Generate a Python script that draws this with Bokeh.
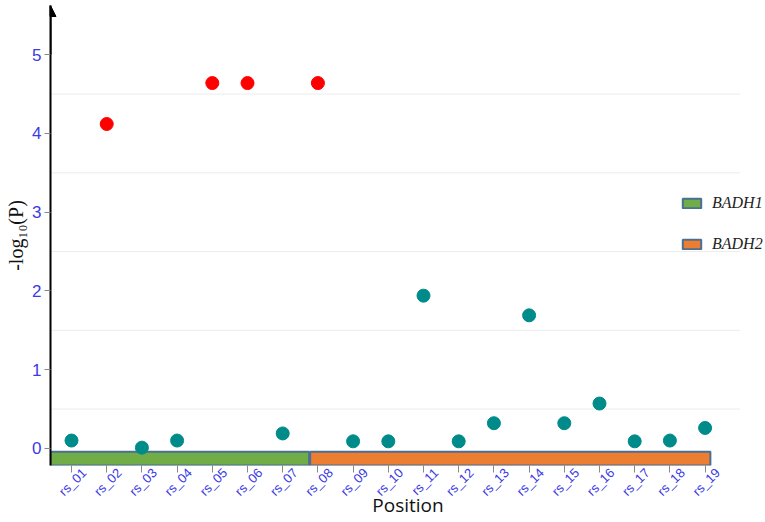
from bokeh.plotting import figure
from bokeh.models import (ColumnDataSource, FixedTicker, Arrow, NormalHead, Legend, LegendItem,
                          LinearAxis, Range1d)
from bokeh.embed import file_html
from bokeh.resources import INLINE

# ---- data ----
snps = ["rs_01", "rs_02", "rs_03", "rs_04", "rs_05", "rs_06", "rs_07", "rs_08", "rs_09", "rs_10",
        "rs_11", "rs_12", "rs_13", "rs_14", "rs_15", "rs_16", "rs_17", "rs_18", "rs_19"]
logp = [0.10, 4.12, 0.01, 0.10, 4.64, 4.64, 0.19, 4.64, 0.09, 0.09,
        1.94, 0.09, 0.32, 1.69, 0.32, 0.57, 0.09, 0.10, 0.26]
significant = [False, True, False, False, True, True, False, True, False, False,
               False, False, False, False, False, False, False, False, False]
genes = ["BADH1", "BADH2"]
gene_start = [0.4, 7.78]
gene_end = [7.75, 19.15]
gene_colors = ["#70ad47", "#ed7d31"]
y_ticks = [0, 1, 2, 3, 4, 5]
grid_lines = [0.5, 1.5, 2.5, 3.5, 4.5]
grid_x = (0.4, 20.0)
x_title = "Position"
y_title = "-log\u2081\u2080(P)"

pos = list(range(1, len(snps) + 1))
pt_colors = ["#ff0000" if s else "#008b8b" for s in significant]

X0, X1 = 0.403, 20.716
Y0, Y1 = -0.217, 5.625
LABEL_SHIFT = 0.36  # tick labels are centred under their ticks in the original

p = figure(width=765, height=522, output_backend="svg", toolbar_location=None,
           x_range=(X0, X1), y_range=(Y0, Y1),
           min_border_left=50, min_border_right=0, min_border_top=5, min_border_bottom=57)
p.outline_line_color = None
p.xgrid.grid_line_color = None
p.ygrid.grid_line_color = None

# horizontal guide lines at half steps
p.segment(x0=[grid_x[0]] * len(grid_lines), x1=[grid_x[1]] * len(grid_lines),
          y0=grid_lines, y1=grid_lines, line_color="#ececec", line_width=1)

# gene bars
gsrc = ColumnDataSource(dict(left=gene_start, right=gene_end, y=[-0.13, -0.13],
                             color=gene_colors, name=genes))
gr = p.hbar(y="y", left="left", right="right", height=0.175, fill_color="color",
            line_color="#4a6f94", line_width=2, source=gsrc)

# points
psrc = ColumnDataSource(dict(x=pos, y=logp, c=pt_colors))
p.scatter("x", "y", size=13, fill_color="c", line_color="c", source=psrc)

# x axis: tick marks only
xa = p.xaxis[0]
xa.ticker = FixedTicker(ticks=pos)
xa.major_label_text_font_size = "1px"
xa.major_label_text_color = None
xa.major_label_standoff = 0
xa.axis_line_color = None
xa.major_tick_line_color = "#888888"
xa.major_tick_out = 7
xa.major_tick_in = 0
xa.minor_tick_line_color = None

# x axis: labels (range shifted so labels are centred on ticks)
p.extra_x_ranges = {"lab": Range1d(X0 - LABEL_SHIFT, X1 - LABEL_SHIFT)}
xl = LinearAxis(x_range_name="lab", ticker=FixedTicker(ticks=pos))
xl.major_label_overrides = {i: s for i, s in zip(pos, snps)}
xl.major_label_orientation = 0.785
xl.major_label_text_color = "#3a3ae6"
xl.major_label_text_font = "Liberation Sans"
xl.major_label_text_font_size = "13px"
xl.major_label_standoff = -2
xl.axis_line_color = None
xl.major_tick_line_color = None
xl.major_tick_out = 0
xl.major_tick_in = 0
xl.minor_tick_line_color = None
xl.axis_label = x_title
xl.axis_label_text_font = "Open Sans"
xl.axis_label_text_font_style = "normal"
xl.axis_label_text_font_size = "19px"
xl.axis_label_text_color = "#111111"
xl.axis_label_standoff = -15
p.add_layout(xl, "below")

ya = p.yaxis[0]
ya.ticker = FixedTicker(ticks=y_ticks)
ya.major_label_text_color = "#3a3ae6"
ya.major_label_text_font = "Liberation Sans"
ya.major_label_text_font_size = "17px"
ya.axis_line_color = "black"
ya.axis_line_width = 2
ya.major_tick_line_color = "#888888"
ya.major_tick_out = 6
ya.major_tick_in = 0
ya.minor_tick_line_color = None
ya.major_label_standoff = 3
ya.axis_label = y_title
ya.axis_label_text_font = "Liberation Serif"
ya.axis_label_text_font_style = "normal"
ya.axis_label_text_font_size = "20px"
ya.axis_label_text_color = "#111111"
ya.axis_label_standoff = 2

# arrow at top of y axis
p.add_layout(Arrow(end=NormalHead(size=11, fill_color="black", line_color="black"),
                   x_start=X0, y_start=5.0, x_end=X0, y_end=Y1,
                   line_color="black", line_width=2))

# legend
legend = Legend(items=[LegendItem(label=genes[0], renderers=[gr], index=0),
                       LegendItem(label=genes[1], renderers=[gr], index=1)],
                location=(630, 211))
legend.border_line_color = None
legend.background_fill_alpha = 0
legend.label_text_font = "Liberation Serif"
legend.label_text_font_style = "italic"
legend.label_text_font_size = "16px"
legend.label_text_color = "#222222"
legend.glyph_width = 23
legend.glyph_height = 12
legend.label_height = 20
legend.spacing = 21
legend.padding = 0
legend.margin = 0
legend.label_standoff = 9
p.add_layout(legend)

open("out.html", "w").write(file_html(p, INLINE))
